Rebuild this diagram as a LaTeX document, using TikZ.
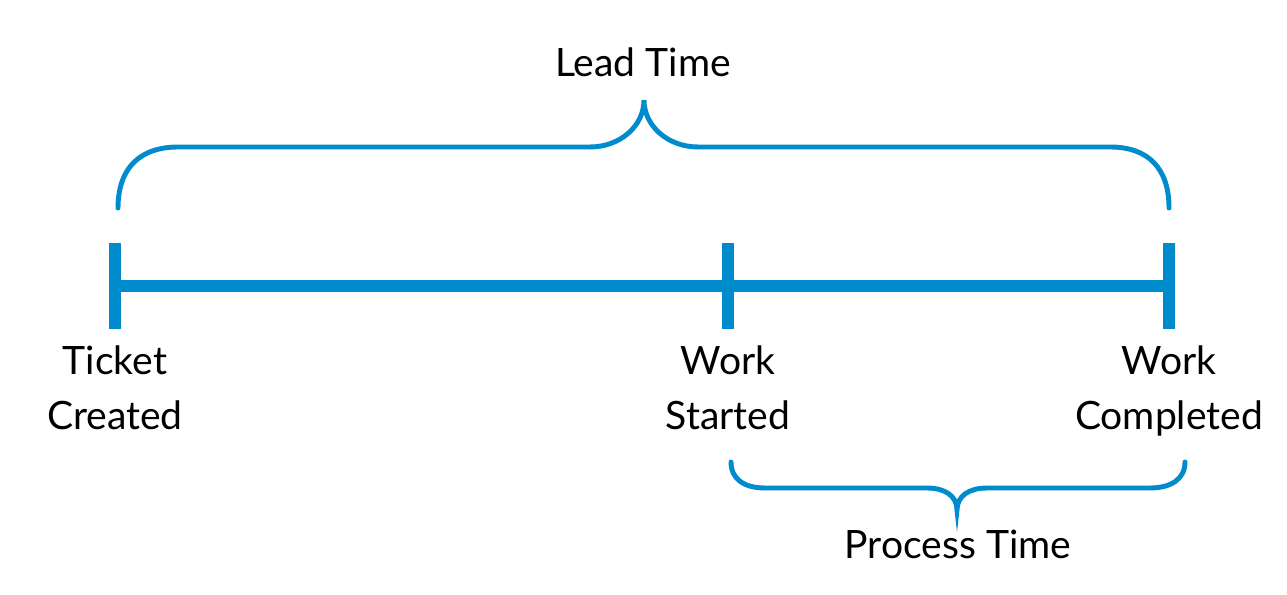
\documentclass[tikz,border=0pt]{standalone}
\usepackage{fontspec}
\setmainfont{Lato}
\definecolor{leadblue}{RGB}{0,139,204}
\tikzset{
  tick/.style={color=leadblue, line width=9.5pt},
  brace/.style={color=leadblue, line width=3.7pt, line cap=round},
  label/.style={inner sep=0pt, align=center, font=\fontsize{29.3}{41.25}\selectfont}
}
\begin{document}
\begin{tikzpicture}[x=0.75pt,y=0.75pt,yscale=-1,xscale=1]
\useasboundingbox (0,0) rectangle (1287,595);

% Points of the timeline
\coordinate (created) at (115,286);
\coordinate (started) at (728,286);
\coordinate (completed) at (1169,286);

%Straight Lines
\draw [color=leadblue, line width=8.3pt] (created) -- (completed) ;
\draw [tick] ([yshift=32pt]created) -- ([yshift=-32pt]created) ;
\draw [tick] ([yshift=32pt]started) -- ([yshift=-32pt]started) ;
\draw [tick] ([yshift=32pt]completed) -- ([yshift=-32pt]completed) ;

%Curve Lines: lead time brace
\draw [brace] (118,208) .. controls (118,168) and (140,147) .. (178,147) -- (590,147) .. controls (620,147) and (644,126) .. (644,100) .. controls (644,126) and (668,147) .. (698,147) -- (1110,147) .. controls (1148,147) and (1169,168) .. (1169,208) ;
%Curve Lines: process time brace
\draw [brace] (731,462) .. controls (731,479) and (744,488) .. (765,488) -- (927,488) .. controls (945,488) and (957,496) .. (957,510) .. controls (957,496) and (969,488) .. (987,488) -- (1150,488) .. controls (1171,488) and (1185,479) .. (1185,462) ;

% Text Node
\node (lead) [label, anchor=base] at (643,77) {Lead Time};
% Text Node
\node (ticket) [label, anchor=north] at (115,345) {Ticket\\Created};
% Text Node
\node (work) [label, anchor=north] at (728,345) {Work\\Started};
% Text Node
\node (done) [label, anchor=north] at (1169,345) {Work\\Completed};
% Text Node
\node (process) [label, anchor=base] at (958,558) {Process Time};

\end{tikzpicture}
\end{document}
